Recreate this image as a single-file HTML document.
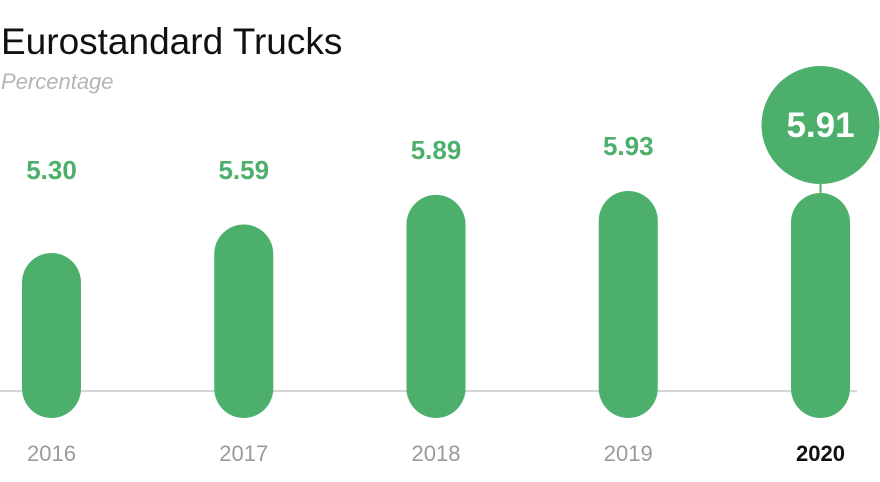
<!DOCTYPE html>
<html><head><meta charset="utf-8"><style>
body{margin:0;background:#fff;width:880px;height:477px;overflow:hidden;font-family:"Liberation Sans",sans-serif}
</style></head><body>
<svg width="880" height="477">
<text x="1" y="54" font-size="37" font-family="Liberation Sans" fill="#111" font-weight="300">Eurostandard Trucks</text>
<text x="1" y="89" font-size="22" font-style="italic" fill="#b5b5b5">Percentage</text>
<line x1="0" y1="391" x2="857" y2="391" stroke="#d6d6d6" stroke-width="2"/>
<g id="g"></g>
</svg>
<script>
const categories=["2016","2017","2018","2019","2020"];
const values=[5.30,5.59,5.89,5.93,5.91];
const green="#4caf6b";
const g=document.getElementById('g');
const NS="http://www.w3.org/2000/svg";
function xC(i){return 51.5+i*192.25;}
function yV(v){return 774.5-v*98.4;}
const bottom=418,w=59;
function mk(t,a){const e=document.createElementNS(NS,t);for(const k in a)e.setAttribute(k,a[k]);g.appendChild(e);return e;}
categories.forEach((c,i)=>{
  const v=values[i],x=xC(i),top=yV(v),last=i===categories.length-1;
  const b=mk('rect',{x:x-w/2,y:top,width:w,height:bottom-top,rx:w/2,ry:w/2,fill:green});
  
  
  const yl=mk('text',{x:x,y:461,'text-anchor':'middle','font-size':22,fill:last?'#111':'#9a9a9a','font-weight':last?'bold':'normal'});
  yl.textContent=c;
  
  
  if(last){
    const cy=125,r=59;
    const ln=mk('line',{x1:x,y1:cy+r,x2:x,y2:top,stroke:green,'stroke-width':2});
    
    
    const ci=mk('circle',{cx:x,cy:cy,r:r,fill:green});
    
    
    const t=mk('text',{x:x,y:cy+12,'text-anchor':'middle','font-size':35,'font-weight':'bold',fill:'#fff'});
    t.textContent=v.toFixed(2);
    
    
  } else {
    const ly=Math.min(top-45,170);
    const t=mk('text',{x:x,y:ly+9,'text-anchor':'middle','font-size':26,'font-weight':'bold',fill:green});
    t.textContent=v.toFixed(2);
    
    
  }
});
</script>
</body></html>
